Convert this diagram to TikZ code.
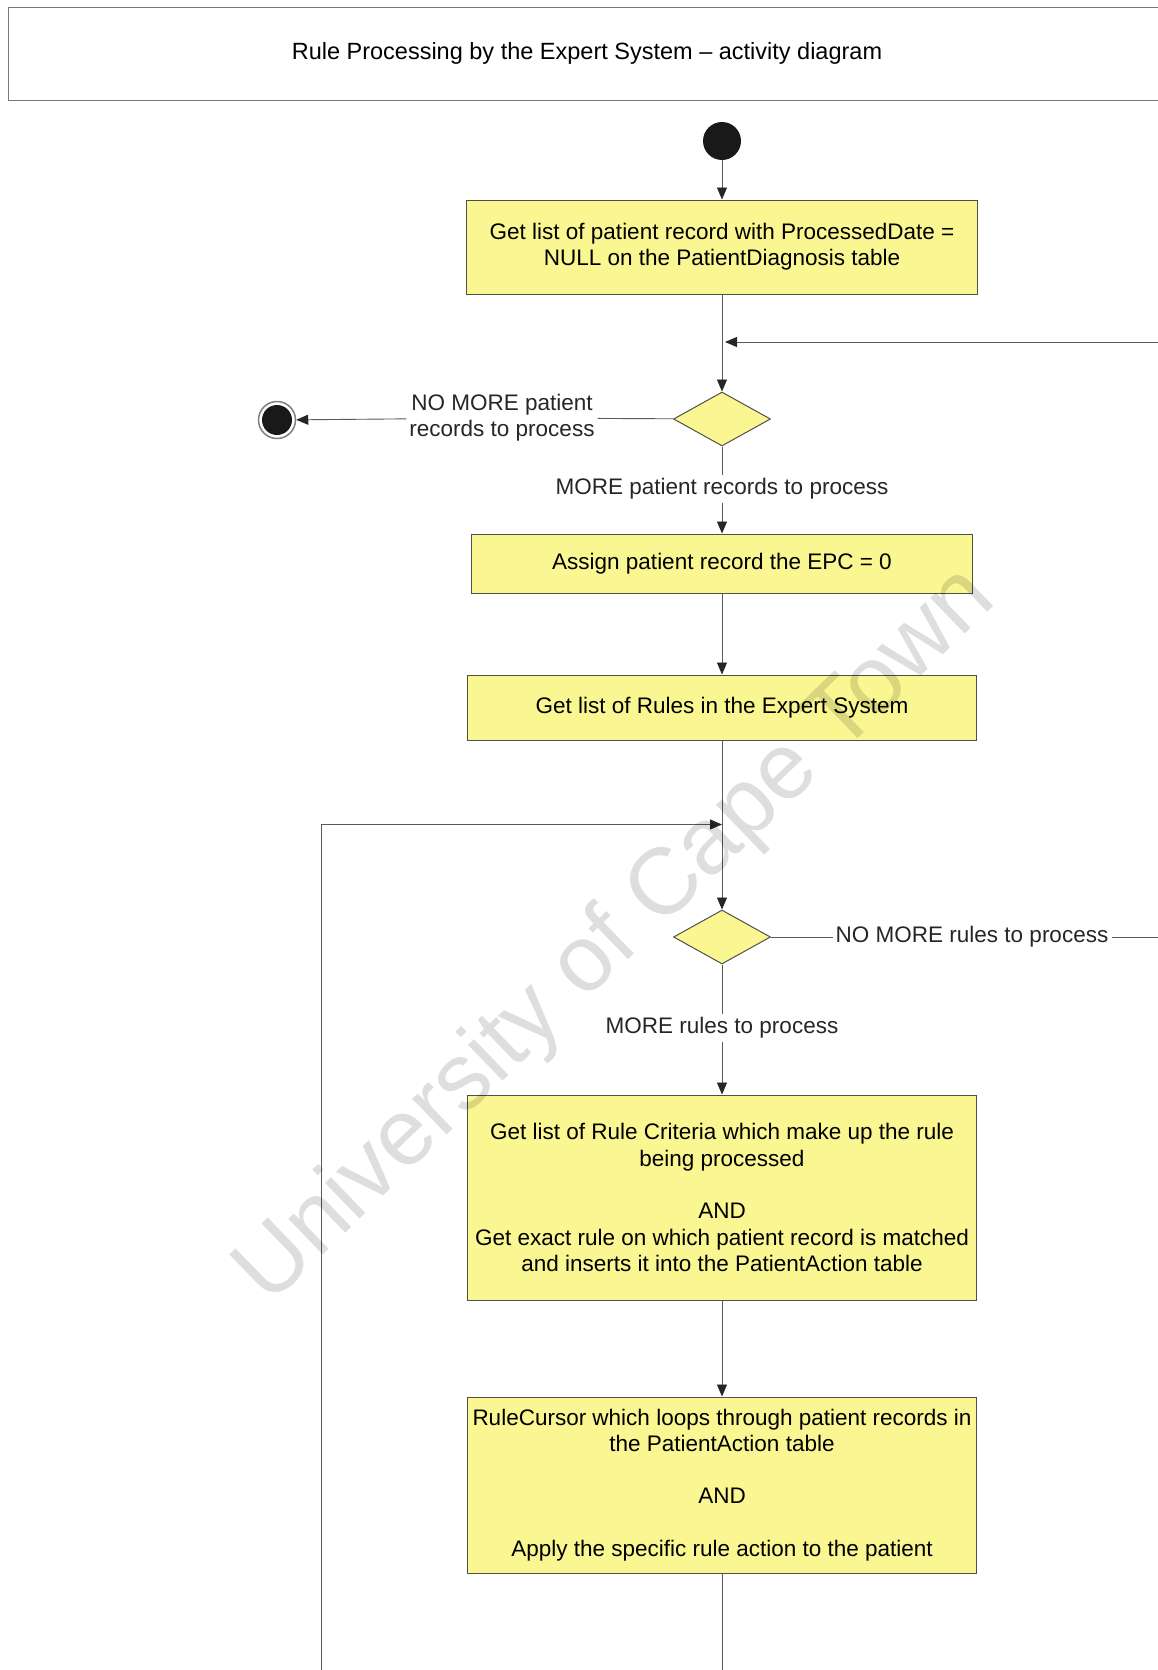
\documentclass[tikz,border=0pt]{standalone}
\usepackage{fontspec}
\setmainfont{Liberation Sans}
\usetikzlibrary{arrows.meta,shapes.geometric}
\definecolor{actfill}{RGB}{250,246,145}
\definecolor{boxedge}{RGB}{80,80,72}
\definecolor{flowcol}{RGB}{90,90,90}
\definecolor{framecol}{RGB}{120,120,120}
\begin{document}
\begin{tikzpicture}[x=1pt,y=-1pt,
  font=\fontsize{22.5}{26.3}\selectfont,
  action/.style={draw=boxedge, line width=1pt, fill=actfill, align=center, inner sep=0pt},
  decision/.style={diamond, draw=boxedge, fill=actfill, line width=1pt,
    minimum width=97pt, minimum height=54pt, inner sep=0pt},
  guard/.style={inner sep=3pt, align=center, text=black!85},
  flow/.style={draw=flowcol, line width=0.9pt},
  flowarrow/.style={flow, -{Triangle[length=12pt,width=10pt,color=black!85]}},
  startdot/.style={circle, fill=black!90, minimum size=38pt, inner sep=0pt},
  enddot/.style={circle, draw=black!50, line width=1.5pt, fill=white, minimum size=37pt, inner sep=0pt}]

% page
\useasboundingbox[fill=white] (0,0) rectangle (1158,1670);

% title frame (open on the right)
\draw[framecol, line width=1pt] (1158,8) -- (8.5,8) -- (8.5,100) -- (1158,100);
\node (title) at (587,53) {\fontsize{23.5}{28}\selectfont Rule Processing by the Expert System -- activity diagram};

% activity nodes
\node[startdot] (start) at (722,141) {};
\node[action, minimum width=511pt, minimum height=94pt] (getlist) at (722,247)
  {Get list of patient record with ProcessedDate =\\NULL on the PatientDiagnosis table};
\node[decision] (dec1) at (722,419) {};
\node[enddot] (stop) at (277,420) {};
\fill[black!90] (stop.center) circle (15pt);
\node[guard] (nomorepat) at (502,418) {NO MORE patient\\records to process};
\node[guard] (morepat) at (722,489) {MORE patient records to process};
\node[action, minimum width=501pt, minimum height=59pt] (assign) at (722,563.5)
  {Assign patient record the EPC = 0};
\node[action, minimum width=509pt, minimum height=65pt] (rules) at (722,707.5)
  {Get list of Rules in the Expert System};
\node[decision] (dec2) at (722,937) {};
\node[guard] (nomorerules) at (972,937) {NO MORE rules to process};
\node[guard] (morerules) at (722,1028) {MORE rules to process};
\node[action, minimum width=509pt, minimum height=205pt] (criteria) at (722,1197.5)
  {Get list of Rule Criteria which make up the rule\\being processed\\[26.3pt]AND\\
   Get exact rule on which patient record is matched\\and inserts it into the PatientAction table};
\node[action, minimum width=509pt, minimum height=176pt] (cursor) at (722,1485)
  {RuleCursor which loops through patient records in\\the PatientAction table\\[26.3pt]AND\\[26.3pt]
   Apply the specific rule action to the patient};

% free ends of connectors
\coordinate (backin) at (1158,342);
\coordinate (join1) at (725,342);
\coordinate (rightout) at (1158,937);
\coordinate (loopfoot) at (321,1670);
\coordinate (join2) at (722,824.5);
\coordinate (bottomout) at (722,1670);

% connectors
\draw[flowarrow] (start) -- (getlist);
\draw[flowarrow] (getlist) -- (dec1);
\draw[flowarrow] (backin) -- (join1);
\draw[flow] (dec1) -- (nomorepat);
\draw[flowarrow] (nomorepat) -- (stop);
\draw[flow] (dec1) -- (morepat);
\draw[flowarrow] (morepat) -- (assign);
\draw[flowarrow] (assign) -- (rules);
\draw[flowarrow] (rules) -- (dec2);
\draw[flowarrow] (loopfoot) |- (join2);
\draw[flow] (dec2) -- (nomorerules);
\draw[flow] (nomorerules) -- (rightout);
\draw[flow] (dec2) -- (morerules);
\draw[flowarrow] (morerules) -- (criteria);
\draw[flowarrow] (criteria) -- (cursor);
\draw[flow] (cursor) -- (bottomout);

% watermark
\node[rotate=44, text=black, opacity=0.13, font=\fontsize{94}{94}\selectfont] (mark) at (617,937)
  {University of Cape Town};
\end{tikzpicture}
\end{document}
